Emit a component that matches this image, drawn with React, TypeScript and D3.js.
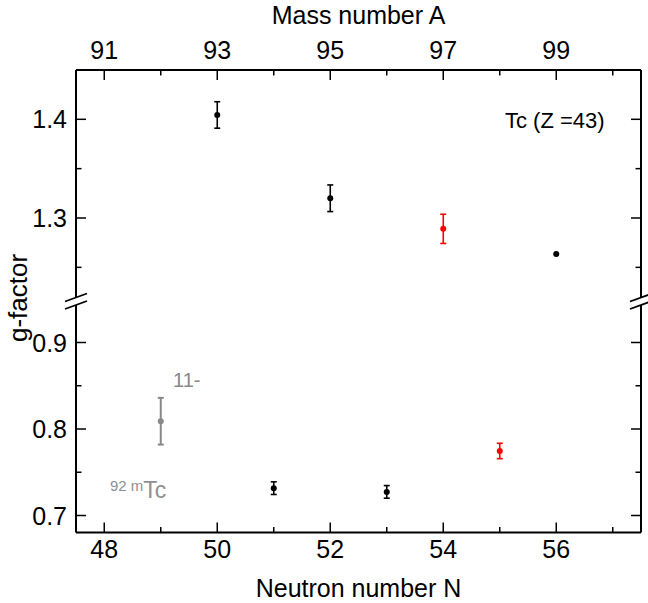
import React from 'react';
import * as d3 from 'd3';

// measured g-factors for Tc isotopes
const neutrons = [49, 50, 51, 52, 53, 54, 55, 56];
const gValues = [0.809, 1.4044, 0.7316, 1.320, 0.7273, 1.289, 0.7746, 1.2635];
const gErrors = [0.027, 0.0134, 0.0073, 0.0135, 0.0073, 0.0148, 0.0089, 0];
const pointColors = ['#888888', '#000', '#000', '#000', '#000', '#ff0000', '#ff0000', '#000'];

const bottomTicks = [48, 49, 50, 51, 52, 53, 54, 55, 56, 57];
const topTicks = [91, 92, 93, 94, 95, 96, 97, 98, 99, 100];
const upperTicks = [1.25, 1.3, 1.35, 1.4];
const lowerTicks = [0.7, 0.75, 0.8, 0.85, 0.9];
const Z = 43;

const font = '"Liberation Sans", Arial, sans-serif';

const left = 76;
const right = 641;
const top = 70;
const bottom = 532.5;
const breakHi = 297.5; // end of upper part
const breakLo = 305; // start of lower part

export default function App() {
  const x = d3.scaleLinear().domain([47.5, 57.5]).range([left, right]);
  const xA = d3.scaleLinear().domain([47.5 + Z, 57.5 + Z]).range([left, right]);
  const yUp = d3.scaleLinear().domain([1.3, 1.4]).range([218, 119.3]);
  const yLo = d3.scaleLinear().domain([0.7, 0.9]).range([515.5, 342.5]);
  const y = (v: number) => (v > 1.1 ? yUp(v) : yLo(v));

  const isMajorY = (v: number) => Math.abs(Math.round(v * 10) - v * 10) < 1e-6;

  const slash = (cx: number, cy: number, k: string) => (
    <line key={k} x1={cx - 11} y1={cy + 4} x2={cx + 11} y2={cy - 4} stroke="#000" strokeWidth={1.8} />
  );

  return (
    <svg width={648} height={603} style={{ position: 'absolute', left: 0, top: 0, background: '#fff' }} fontFamily={font}>
      {/* frame */}
      <g stroke="#000" strokeWidth={2} fill="none">
        <line x1={left} y1={top} x2={right} y2={top} />
        <line x1={left} y1={bottom} x2={right} y2={bottom} />
        <line x1={left} y1={top} x2={left} y2={breakHi} />
        <line x1={left} y1={breakLo} x2={left} y2={bottom} />
        <line x1={right} y1={top} x2={right} y2={breakHi} />
        <line x1={right} y1={breakLo} x2={right} y2={bottom} />
      </g>
      {slash(left, breakHi, 'l1')}
      {slash(left, breakLo, 'l2')}
      {slash(right, breakHi, 'r1')}
      {slash(right, breakLo, 'r2')}

      {/* bottom axis */}
      {bottomTicks.map((n) => {
        const major = n % 2 === 0;
        const len = major ? 10 : 5.5;
        return (
          <g key={'b' + n}>
            <line x1={x(n)} x2={x(n)} y1={bottom} y2={bottom - len} stroke="#000" strokeWidth={1.5} />
            {major && n <= 56 && (
              <text x={x(n)} y={558} textAnchor="middle" fontSize={25}>{n}</text>
            )}
          </g>
        );
      })}
      {/* top axis */}
      {topTicks.map((a) => {
        const major = a % 2 === 1;
        const len = major ? 10 : 5.5;
        return (
          <g key={'t' + a}>
            <line x1={xA(a)} x2={xA(a)} y1={top} y2={top + len} stroke="#000" strokeWidth={1.5} />
            {major && (
              <text x={xA(a)} y={59} textAnchor="middle" fontSize={25}>{a}</text>
            )}
          </g>
        );
      })}
      {/* y axes */}
      {[...upperTicks, ...lowerTicks].map((v) => {
        const major = isMajorY(v);
        const len = major ? 10 : 5.5;
        const yy = y(v);
        return (
          <g key={'y' + v}>
            <line x1={left} x2={left + len} y1={yy} y2={yy} stroke="#000" strokeWidth={1.5} />
            <line x1={right} x2={right - len} y1={yy} y2={yy} stroke="#000" strokeWidth={1.5} />
            {major && (
              <text x={67} y={yy} dy="0.36em" textAnchor="end" fontSize={25}>{v.toFixed(1)}</text>
            )}
          </g>
        );
      })}

      {/* titles */}
      <text x={(left + right) / 2} y={24} textAnchor="middle" fontSize={25}>Mass number A</text>
      <text x={(left + right) / 2} y={597} textAnchor="middle" fontSize={25}>Neutron number N</text>
      <text transform={`translate(27,298) rotate(-90)`} textAnchor="middle" fontSize={26}>g-factor</text>

      {/* data */}
      {neutrons.map((n, i) => {
        const cx = x(n);
        const g = gValues[i];
        const e = gErrors[i];
        const c = pointColors[i];
        const sw = c === '#888888' ? 2 : 1.6;
        return (
          <g key={'p' + n}>
            {e > 0 && (
              <g stroke={c} strokeWidth={sw}>
                <line x1={cx} x2={cx} y1={y(g - e)} y2={y(g + e)} />
                <line x1={cx - 3} x2={cx + 3} y1={y(g - e)} y2={y(g - e)} />
                <line x1={cx - 3} x2={cx + 3} y1={y(g + e)} y2={y(g + e)} />
              </g>
            )}
            <circle cx={cx} cy={y(g)} r={3} fill={c} />
          </g>
        );
      })}

      {/* annotations */}
      <text x={505} y={128} fontSize={22}>Tc (Z =43)</text>
      <text x={173} y={387} fontSize={20} fill="#888888">11-</text>
      <text x={110} y={491} fill="#909090">
        <tspan fontSize={15}>92 m</tspan>
        <tspan fontSize={23} dy={7}>Tc</tspan>
      </text>
    </svg>
  );
}
